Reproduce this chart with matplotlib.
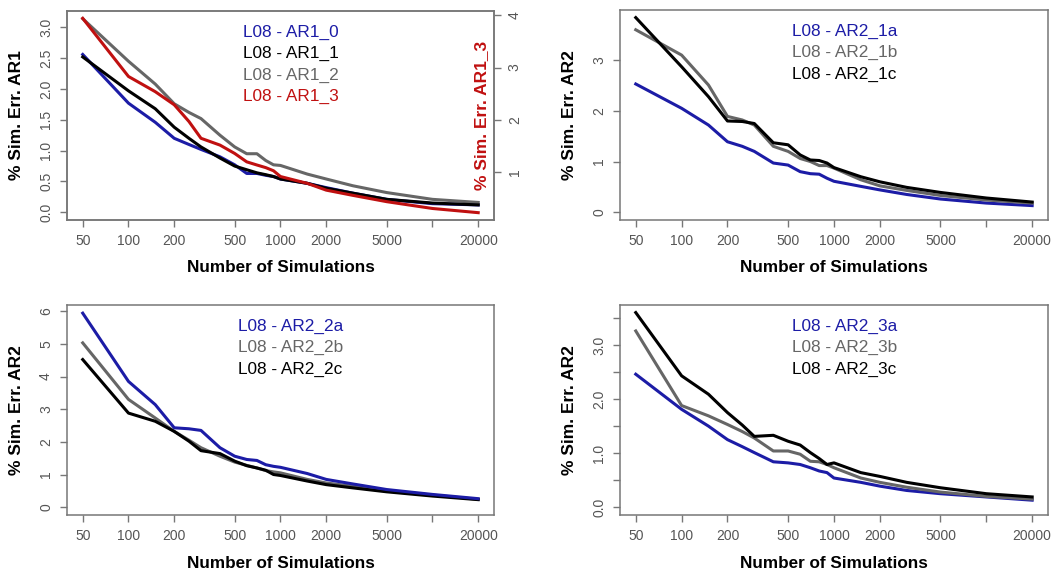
import numpy as np
import matplotlib
matplotlib.use("Agg")
import matplotlib.pyplot as plt

plt.rcParams['font.family'] = ['Liberation Sans', 'DejaVu Sans']

# number of simulations
n_sims = [50, 100, 150, 200, 250, 300, 400, 500, 600, 700, 800, 900, 1000,
          1500, 2000, 3000, 5000, 10000, 20000]

# AR1 errors (%)
ar1_0 = [2.56, 1.77, 1.46, 1.20, 1.10, 1.02, 0.90, 0.77, 0.63, 0.63, 0.60, 0.58, 0.54,
         0.47, 0.40, 0.31, 0.21, 0.14, 0.12]
ar1_1 = [2.52, 1.97, 1.68, 1.38, 1.20, 1.06, 0.88, 0.75, 0.69, 0.64, 0.61, 0.58, 0.54,
         0.47, 0.39, 0.31, 0.21, 0.15, 0.12]
ar1_2 = [3.14, 2.45, 2.08, 1.76, 1.62, 1.52, 1.25, 1.06, 0.95, 0.95, 0.84, 0.77, 0.76,
         0.62, 0.54, 0.43, 0.32, 0.21, 0.16]
ar1_3 = [3.94, 2.83, 2.54, 2.29, 1.97, 1.65, 1.52, 1.36, 1.20, 1.14, 1.09, 1.03, 0.92,
         0.79, 0.66, 0.56, 0.44, 0.31, 0.23]

# AR2 errors (%)
ar2_1a = [2.53, 2.05, 1.72, 1.39, 1.30, 1.20, 0.97, 0.93, 0.80, 0.76, 0.75, 0.67, 0.61,
          0.51, 0.44, 0.35, 0.26, 0.18, 0.13]
ar2_1b = [3.60, 3.10, 2.51, 1.89, 1.82, 1.72, 1.30, 1.20, 1.06, 1.00, 0.92, 0.92, 0.87,
          0.64, 0.52, 0.43, 0.33, 0.24, 0.18]
ar2_1c = [3.84, 2.87, 2.28, 1.80, 1.79, 1.75, 1.37, 1.33, 1.13, 1.03, 1.02, 0.97, 0.88,
          0.70, 0.60, 0.49, 0.39, 0.28, 0.20]

ar2_2a = [5.94, 3.85, 3.14, 2.43, 2.40, 2.35, 1.82, 1.56, 1.46, 1.43, 1.30, 1.25, 1.22,
          1.03, 0.85, 0.71, 0.54, 0.39, 0.26]
ar2_2b = [5.03, 3.30, 2.73, 2.32, 2.05, 1.82, 1.56, 1.38, 1.28, 1.20, 1.12, 1.08, 1.05,
          0.85, 0.74, 0.64, 0.51, 0.37, 0.24]
ar2_2c = [4.52, 2.88, 2.63, 2.32, 2.02, 1.73, 1.64, 1.41, 1.27, 1.20, 1.13, 1.00, 0.97,
          0.80, 0.69, 0.59, 0.47, 0.34, 0.23]

ar2_3a = [2.46, 1.81, 1.50, 1.25, 1.12, 1.01, 0.84, 0.82, 0.79, 0.73, 0.67, 0.64, 0.54,
          0.46, 0.39, 0.31, 0.25, 0.19, 0.13]
ar2_3b = [3.26, 1.88, 1.69, 1.53, 1.40, 1.28, 1.04, 1.04, 0.98, 0.85, 0.84, 0.79, 0.73,
          0.54, 0.46, 0.37, 0.28, 0.20, 0.15]
ar2_3c = [3.60, 2.43, 2.09, 1.75, 1.52, 1.31, 1.33, 1.22, 1.15, 1.01, 0.90, 0.79, 0.82,
          0.64, 0.57, 0.46, 0.36, 0.25, 0.19]

xticks = [50, 100, 200, 500, 1000, 2000, 5000, 10000, 20000]
xticklabels = ['50', '100', '200', '500', '1000', '2000', '5000', '', '20000']

BLUE = '#1c1ca6'
BLACK = '#000000'
GRAY = '#666666'
RED = '#c01010'
FRAME = '#777777'
TICKTXT = '#555555'

W, H = 1060, 573
fig = plt.figure(figsize=(W / 100, H / 100), dpi=100)


def make_ax(left, top, right, bottom):
    return fig.add_axes([left / W, 1 - bottom / H, (right - left) / W, (bottom - top) / H])


def style(ax, ylim, yticks, ylabels, ylabel, bottom_px):
    ax.set_xscale('log')
    ax.set_xlim(39.4, 25410)
    ax.set_xticks(xticks)
    ax.set_xticklabels(xticklabels)
    ax.minorticks_off()
    ax.set_ylim(*ylim)
    ax.set_yticks(yticks)
    ax.set_yticklabels(ylabels, rotation=90, va='center')
    for s in ax.spines.values():
        s.set_color(FRAME)
        s.set_linewidth(1.1)
    ax.tick_params(axis='both', direction='out', length=5, width=1.0, color=FRAME,
                   labelcolor=TICKTXT, labelsize=10)
    ax.tick_params(axis='x', pad=5)
    ax.tick_params(axis='y', pad=5)
    ax.set_xlabel('Number of Simulations', fontsize=12.3, fontweight='bold')
    ax.xaxis.label.set_va('center')
    ax.xaxis.set_label_coords(0.5, -48 / (bottom_px[1] - bottom_px[0]))
    ax.set_ylabel(ylabel, fontsize=12.5, fontweight='bold')
    ax.yaxis.label.set_va('center')
    ax.yaxis.set_label_coords(-50 / 427, 0.5)


def legend_text(ax, left_px, axbox, labels, colors):
    l, t, r, b = axbox
    for i, (lab, c) in enumerate(zip(labels, colors)):
        yc = 32 + 21.6 * i
        ax.text((left_px - l) / (r - l), (b - (t + yc - 11)) / (b - t), lab,
                transform=ax.transAxes, color=c, fontsize=12.4,
                ha='left', va='center')


lw = 2.2

# top left: AR1 with secondary axis for AR1_3
box1 = (67, 11, 494, 220)
ax1 = make_ax(*box1)
ax1.plot(n_sims, ar1_0, color=BLUE, lw=lw)
ax1.plot(n_sims, ar1_2, color=GRAY, lw=lw)
ax1.plot(n_sims, ar1_1, color=BLACK, lw=lw)
style(ax1, (-0.125, 3.265), [0, 0.5, 1, 1.5, 2, 2.5, 3],
      ['0.0', '0.5', '1.0', '1.5', '2.0', '2.5', '3.0'], '% Sim. Err. AR1', (11, 220))
ax1b = ax1.twinx()
ax1b.plot(n_sims, ar1_3, color=RED, lw=lw)
ax1b.set_ylim(0.09, 4.08)
ax1b.set_yticks([1, 2, 3, 4])
ax1b.set_yticklabels(['1', '2', '3', '4'], rotation=90, va='center')
ax1b.tick_params(axis='y', direction='out', length=5, width=1.0, color=FRAME,
                 labelcolor=TICKTXT, labelsize=10, pad=5)
for s in ax1b.spines.values():
    s.set_color(FRAME)
    s.set_linewidth(1.1)
ax1b.text(0.970, 0.5, '% Sim. Err. AR1_3', transform=ax1b.transAxes, rotation=90,
          color=RED, fontsize=12.5, fontweight='bold', ha='center', va='center')
legend_text(ax1b, 243, box1, ['L08 - AR1_0', 'L08 - AR1_1', 'L08 - AR1_2', 'L08 - AR1_3'],
            [BLUE, BLACK, GRAY, RED])

# top right
box2 = (620, 10, 1048, 220)
ax2 = make_ax(*box2)
ax2.plot(n_sims, ar2_1a, color=BLUE, lw=lw)
ax2.plot(n_sims, ar2_1b, color=GRAY, lw=lw)
ax2.plot(n_sims, ar2_1c, color=BLACK, lw=lw)
style(ax2, (-0.154, 3.99), [0, 1, 2, 3], ['0', '1', '2', '3'], '% Sim. Err. AR2', (10, 220))
legend_text(ax2, 792, box2, ['L08 - AR2_1a', 'L08 - AR2_1b', 'L08 - AR2_1c'],
            [BLUE, GRAY, BLACK])

# bottom left
box3 = (67, 305, 494, 515)
ax3 = make_ax(*box3)
ax3.plot(n_sims, ar2_2b, color=GRAY, lw=lw)
ax3.plot(n_sims, ar2_2c, color=BLACK, lw=lw)
ax3.plot(n_sims, ar2_2a, color=BLUE, lw=lw)
style(ax3, (-0.24, 6.19), [0, 1, 2, 3, 4, 5, 6], ['0', '1', '2', '3', '4', '5', '6'],
      '% Sim. Err. AR2', (305, 515))
legend_text(ax3, 238, (67, 305 - 0, 494, 515),
            ['L08 - AR2_2a', 'L08 - AR2_2b', 'L08 - AR2_2c'], [BLUE, GRAY, BLACK])

# bottom right
box4 = (620, 305, 1048, 515)
ax4 = make_ax(*box4)
ax4.plot(n_sims, ar2_3a, color=BLUE, lw=lw)
ax4.plot(n_sims, ar2_3b, color=GRAY, lw=lw)
ax4.plot(n_sims, ar2_3c, color=BLACK, lw=lw)
style(ax4, (-0.144, 3.74), [0, 0.5, 1, 1.5, 2, 2.5, 3, 3.5],
      ['0.0', '', '1.0', '', '2.0', '', '3.0', ''], '% Sim. Err. AR2', (305, 515))
legend_text(ax4, 792, box4, ['L08 - AR2_3a', 'L08 - AR2_3b', 'L08 - AR2_3c'],
            [BLUE, GRAY, BLACK])

fig.savefig('out.png', dpi=100)
